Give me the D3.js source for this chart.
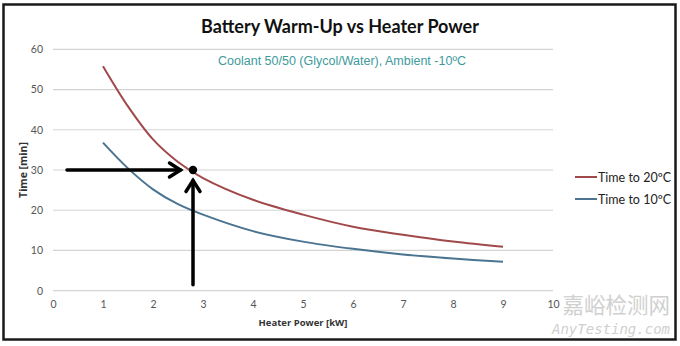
<!DOCTYPE html>
<html><head><meta charset="utf-8">
<script src="https://cdn.jsdelivr.net/npm/d3@7"></script>
<style>body{margin:0;background:#fff;}svg{display:block;}</style>
</head><body>
<svg id="c" width="680" height="346"></svg>
<script>
const title = "Battery Warm-Up vs Heater Power";
const subtitle = "Coolant 50/50 (Glycol/Water), Ambient -10ºC";
const xTitle = "Heater Power [kW]";
const yTitle = "Time [min]";
const xTicks = [0,1,2,3,4,5,6,7,8,9,10];
const yTicks = [0,10,20,30,40,50,60];
const power = [1, 1.5, 2, 2.5, 3, 4, 5, 6, 7, 8, 9];
const timeTo20 = [55.8, 45.8, 37.6, 32.0, 28.0, 22.6, 18.9, 15.9, 13.9, 12.2, 10.9];
const timeTo10 = [36.8, 30.4, 25.2, 21.5, 18.9, 14.8, 12.2, 10.4, 9.0, 8.0, 7.2];
const seriesNames = ["Time to 20ºC", "Time to 10ºC"];
const seriesColors = ["#a0494b", "#4b7491"];
const pointX = 2.8, pointY = 30;

const svg = d3.select("#c");
const x = d3.scaleLinear().domain([0,10]).range([53,553]);
const y = d3.scaleLinear().domain([0,60]).range([290.7,49.3]);

svg.append("rect").attr("x",3.5).attr("y",4.5).attr("width",672).attr("height",335)
  .attr("fill","#fff").attr("stroke","#1a1a1a").attr("stroke-width",2.5);

// gridlines
svg.append("g").selectAll("line").data(yTicks).join("line")
  .attr("x1",x(0)).attr("x2",x(10)).attr("y1",d=>y(d)).attr("y2",d=>y(d))
  .attr("stroke","#d4d4d4").attr("stroke-width",1.2);

// axes labels
const yAxis = svg.append("g").attr("transform",`translate(${x(0)},0)`)
  .call(d3.axisLeft(y).tickValues(yTicks).tickSize(0).tickPadding(10));
yAxis.select(".domain").remove();
yAxis.selectAll("text").attr("font-family","Lato, 'Open Sans', sans-serif").attr("font-size",10.5).attr("fill","#555");
const xAxis = svg.append("g").attr("transform",`translate(0,${y(0)})`)
  .call(d3.axisBottom(x).tickValues(xTicks).tickSize(0).tickPadding(10));
xAxis.select(".domain").remove();
xAxis.selectAll("text").attr("font-family","Lato, 'Open Sans', sans-serif").attr("font-size",10.5).attr("fill","#555");

// titles
svg.append("text").attr("x",340).attr("y",33).attr("text-anchor","middle")
  .attr("font-family","Lato, sans-serif").attr("font-weight","bold").attr("font-size",18).attr("fill","#111").text(title);
svg.append("text").attr("x",342).attr("y",65).attr("text-anchor","middle")
  .attr("font-family","'Liberation Sans', Arial, sans-serif").attr("font-size",12.5).attr("fill","#3e9a9c").text(subtitle);
svg.append("text").attr("x",303).attr("y",326).attr("text-anchor","middle")
  .attr("font-family","'Open Sans', sans-serif").attr("font-weight","bold").attr("font-size",9.5).attr("fill","#333").text(xTitle);
svg.append("text").attr("transform","translate(27,170) rotate(-90)").attr("text-anchor","middle")
  .attr("font-family","'Open Sans', sans-serif").attr("font-weight","bold").attr("font-size",10.5).attr("fill","#333").text(yTitle);

// lines
const line = d3.line().x(d=>x(d[0])).y(d=>y(d[1])).curve(d3.curveCatmullRom.alpha(0.5));
[timeTo20, timeTo10].forEach((vals,i)=>{
  svg.append("path").datum(power.map((p,j)=>[p,vals[j]]))
    .attr("d",line).attr("fill","none").attr("stroke",seriesColors[i]).attr("stroke-width",2);
});

// legend
seriesNames.forEach((n,i)=>{
  const ly = 177 + i*22;
  svg.append("line").attr("x1",575).attr("x2",597).attr("y1",ly).attr("y2",ly)
    .attr("stroke",seriesColors[i]).attr("stroke-width",2);
  svg.append("text").attr("x",598).attr("y",ly+4.5).attr("font-family","Lato, sans-serif")
    .attr("font-size",12.5).attr("fill","#222").text(n);
});

// annotation arrows
const arrowG = svg.append("g").attr("stroke","#000").attr("stroke-width",3.5).attr("fill","none")
  .attr("stroke-linecap","round").attr("stroke-linejoin","miter");
const hx1 = x(0.28), hx2 = x(2.55), hy = y(pointY);
arrowG.append("line").attr("x1",hx1).attr("x2",hx2).attr("y1",hy).attr("y2",hy);
arrowG.append("path").attr("d",`M${hx2-11},${hy-7}L${hx2},${hy}L${hx2-11},${hy+7}`);
const vx = x(pointX), vy1 = y(1.5), vy2 = y(27.4);
arrowG.append("line").attr("x1",vx).attr("x2",vx).attr("y1",vy1).attr("y2",vy2);
arrowG.append("path").attr("d",`M${vx-7},${vy2+11}L${vx},${vy2}L${vx+7},${vy2+11}`);
svg.append("circle").attr("cx",x(pointX)).attr("cy",y(pointY)).attr("r",4.2).attr("fill","#000");

// watermark
svg.append("text").attr("x",670).attr("y",313).attr("text-anchor","end")
  .attr("font-family","'Noto Sans CJK SC', sans-serif").attr("font-size",21.5).attr("fill","#c8c8c8").attr("opacity",0.85).text("嘉峪检测网");
svg.append("text").attr("x",670).attr("y",334).attr("text-anchor","end")
  .attr("font-family","'DejaVu Sans Mono', monospace").attr("font-style","italic").attr("font-size",14).attr("fill","#c8c8c8").attr("opacity",0.85).text("AnyTesting.com");
</script>
</body></html>
